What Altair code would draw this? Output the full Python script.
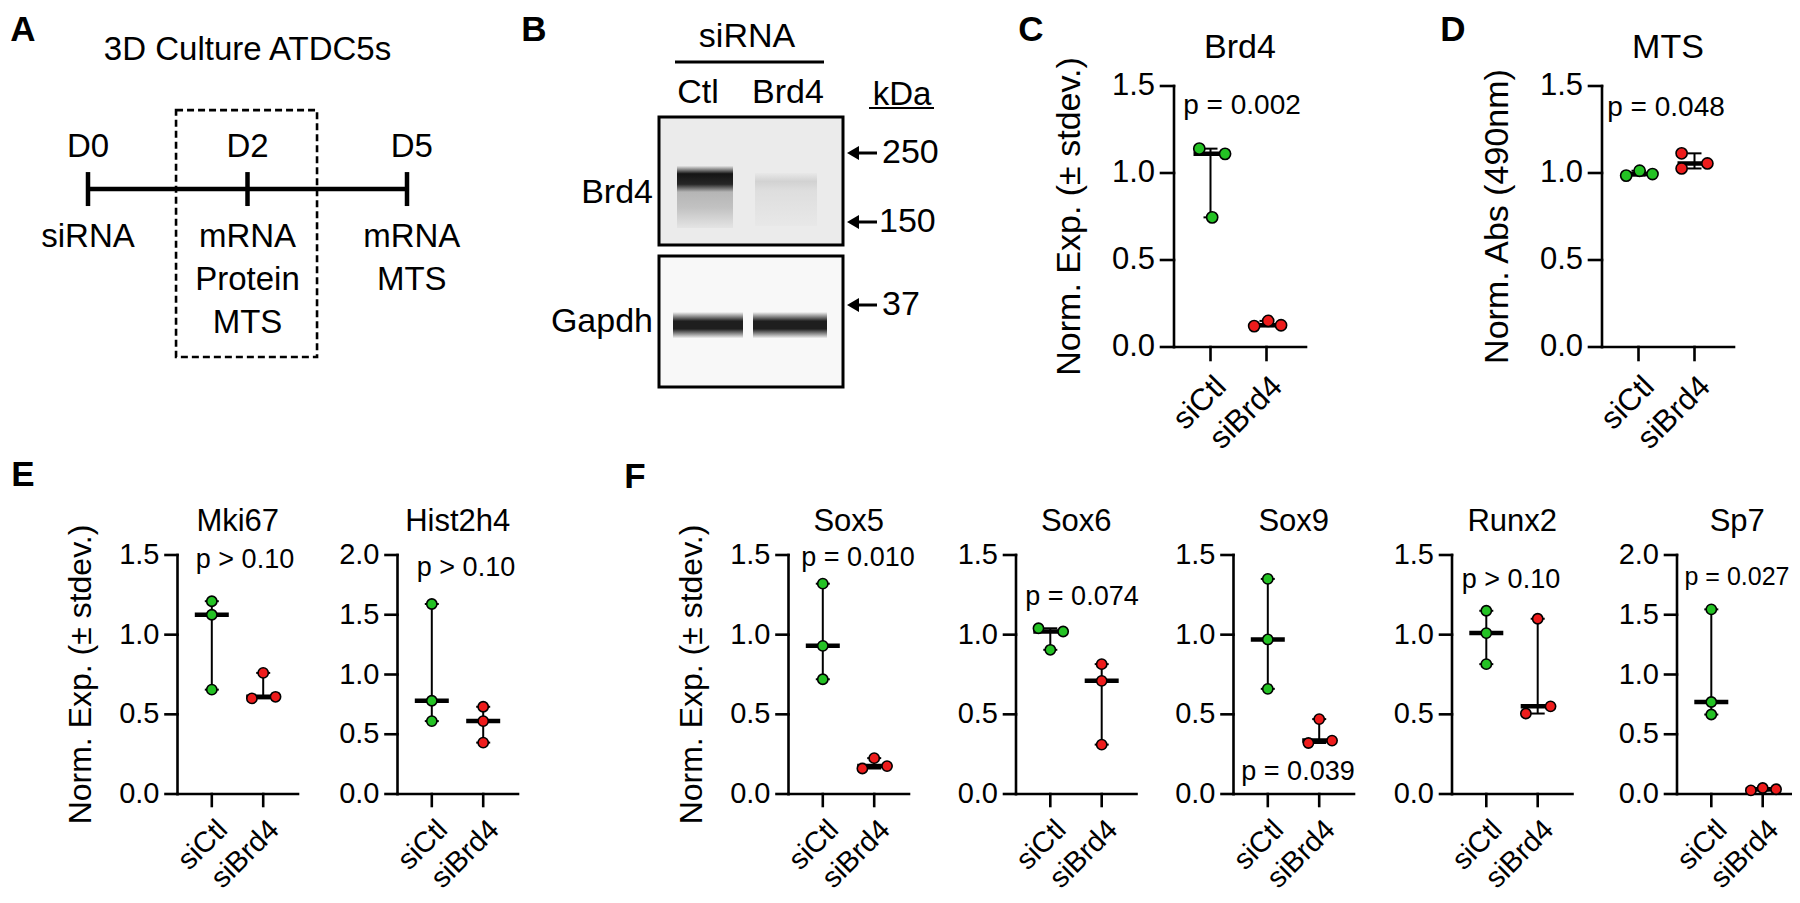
import numpy as np
import pandas as pd
import altair as alt

FONT = "Liberation Sans"
GREEN = "#24c224"
RED = "#ee1c1c"
groups = ["siCtl", "siBrd4"]

# ------------------------------------------------------------------ data
brd4_ctl = [1.14, 1.11, 0.745]
brd4_si = [0.12, 0.15, 0.125]
mts_ctl = [0.985, 1.013, 0.994]
mts_si = [1.113, 1.026, 1.055]
mki67_ctl = [1.21, 1.125, 0.655]
mki67_si = [0.60, 0.76, 0.61]
hist2h4_ctl = [1.59, 0.78, 0.61]
hist2h4_si = [0.73, 0.61, 0.43]
sox5_ctl = [1.32, 0.93, 0.72]
sox5_si = [0.16, 0.225, 0.175]
sox6_ctl = [1.04, 1.02, 0.905]
sox6_si = [0.815, 0.71, 0.31]
sox9_ctl = [1.35, 0.97, 0.66]
sox9_si = [0.32, 0.47, 0.335]
runx2_ctl = [1.15, 1.01, 0.815]
runx2_si = [1.10, 0.505, 0.55]
sp7_ctl = [1.545, 0.77, 0.665]
sp7_si = [0.03, 0.05, 0.04]

# horizontal spread of overlapping replicate points (category-step units)
brd4_off = ([-0.20, 0.26, 0.03], [-0.22, 0.03, 0.26])
mts_off = ([-0.22, 0.02, 0.25], [-0.23, -0.23, 0.23])
mki67_off = ([0, 0, 0], [-0.22, 0, 0.24])
hist2h4_off = ([0, 0, 0], [0, 0, 0])
sox5_off = ([0, 0, 0], [-0.23, 0, 0.25])
sox6_off = ([-0.23, 0.25, 0], [0, 0, 0])
sox9_off = ([0, 0, 0], [-0.21, 0, 0.25])
runx2_off = ([0, 0, 0], [0, -0.23, 0.25])
sp7_off = ([0, 0, 0], [-0.23, 0, 0.26])

p_labels = {"Brd4": "p = 0.002", "MTS": "p = 0.048", "Mki67": "p > 0.10",
            "Hist2h4": "p > 0.10", "Sox5": "p = 0.010", "Sox6": "p = 0.074",
            "Sox9": "p = 0.039", "Runx2": "p > 0.10", "Sp7": "p = 0.027"}
ytitle_expr = "Norm. Exp. (± stdev.)"
ytitle_abs = "Norm.  Abs (490nm)"

# panel A (timeline)
days = ["D0", "D2", "D5"]
day_events = [["siRNA"], ["mRNA", "Protein", "MTS"], ["mRNA", "MTS"]]
timeline_title = "3D Culture ATDC5s"

# panel B (blot annotation)
blot_header = "siRNA"
blot_lanes = ["Ctl", "Brd4"]
blot_rows = ["Brd4", "Gapdh"]
kda_markers = ["250", "150", "37"]

panel_letters = ["A", "B", "C", "D", "E", "F"]

# ------------------------------------------------------------------ layout
ROWS = {
    "top": dict(top=86, bot=347, W=132, step=56.0, padL=36.5, title_y=48, ytitle_off=104,
                tick=13, fs_tick=31, fs_title=34, fs_ytitle=34, fs_p=28, fs_xlab=31, xlab_dy=35,
                msize=125),
    "bottom": dict(top=555, bot=794, W=120.5, step=51.4, padL=34.3, title_y=522, ytitle_off=97,
                   tick=12, fs_tick=29, fs_title=31, fs_ytitle=32, fs_p=27, fs_xlab=29, xlab_dy=31,
                   msize=105),
}


def rules(df, xs, ys, width, dash=None, cap="square"):
    kw = dict(strokeWidth=width, color="black", strokeCap=cap)
    if dash:
        kw["strokeDash"] = dash
    return alt.Chart(df).mark_rule(**kw).encode(
        x=alt.X("x:Q", scale=xs, axis=None), x2="x2:Q",
        y=alt.Y("y:Q", scale=ys, axis=None), y2="y2:Q")


def texts(df, xs, ys, size, **kw):
    return alt.Chart(df).mark_text(font=FONT, fontSize=size, color="black", **kw).encode(
        x=alt.X("x:Q", scale=xs, axis=None), y=alt.Y("y:Q", scale=ys, axis=None), text="t:N")


def scatter_panel(name, ctl, si, offs, ymax, row, axis_x, p_px, ytitle=None, p_size=None):
    R = ROWS[row]
    step, padL, W, top, bot = R["step"], R["padL"], R["W"], R["top"], R["bot"]
    ppu = (bot - top) / ymax
    xmin, xmax = -padL / step, (W - padL) / step
    xs = alt.Scale(domain=[xmin, xmax], range=[axis_x - 8, axis_x + W - 8], nice=False, zero=False)
    ys = alt.Scale(domain=[0, ymax], range=[bot - 8, top - 8], nice=False, zero=False)

    def dx(px):
        return px / step

    def dy(px):
        return px / ppu

    ticks = [round(v, 2) for v in np.arange(0, ymax + 1e-9, 0.5)]
    tl = R["tick"]
    ax = [dict(x=xmin, x2=xmin, y=0, y2=ymax), dict(x=xmin, x2=xmax, y=0, y2=0)]
    ax += [dict(x=xmin - dx(tl), x2=xmin, y=t, y2=t) for t in ticks]
    ax += [dict(x=c, x2=c, y=0, y2=-dy(tl)) for c in (0, 1)]
    layers = [rules(pd.DataFrame(ax), xs, ys, 2.6)]

    layers.append(texts(pd.DataFrame([dict(x=xmin - dx(tl + 6), y=t, t=f"{t:.1f}") for t in ticks]),
                        xs, ys, R["fs_tick"], align="right", baseline="middle"))
    layers.append(texts(pd.DataFrame([dict(x=c + dx(11), y=-dy(R["xlab_dy"]), t=g) for c, g in enumerate(groups)]),
                        xs, ys, R["fs_xlab"], align="right", baseline="middle", angle=315))
    layers.append(texts(pd.DataFrame([dict(x=(xmin + xmax) / 2, y=ymax + dy(top - R["title_y"]), t=name)]),
                        xs, ys, R["fs_title"], align="center", baseline="middle"))
    if ytitle:
        layers.append(texts(pd.DataFrame([dict(x=xmin - dx(R["ytitle_off"]), y=ymax / 2, t=ytitle)]),
                            xs, ys, R["fs_ytitle"], align="center", baseline="middle", angle=270))
    px, py = p_px
    layers.append(texts(pd.DataFrame([dict(x=(px - axis_x - padL) / step, y=(bot - py) / ppu, t=p_labels[name])]),
                        xs, ys, p_size or R["fs_p"], align="center", baseline="middle"))

    err, caps, meds, pts = [], [], [], []
    for c, (vals, off, g) in enumerate(zip((ctl, si), offs, groups)):
        lo, hi, md = min(vals), max(vals), float(np.median(vals))
        err.append(dict(x=c, x2=c, y=lo, y2=hi))
        caps += [dict(x=c - dx(7), x2=c + dx(7), y=v, y2=v) for v in (lo, hi)]
        meds.append(dict(x=c - dx(17), x2=c + dx(17), y=md, y2=md))
        pts += [dict(x=c + o, y=v, g=g) for v, o in zip(vals, off)]
    layers.append(rules(pd.DataFrame(err), xs, ys, 2.0, cap="butt"))
    layers.append(rules(pd.DataFrame(caps), xs, ys, 2.0, cap="butt"))
    layers.append(rules(pd.DataFrame(meds), xs, ys, 4.5, cap="butt"))
    layers.append(alt.Chart(pd.DataFrame(pts)).mark_circle(
        size=R["msize"], stroke="black", strokeWidth=1.6, opacity=1).encode(
        x=alt.X("x:Q", scale=xs, axis=None), y=alt.Y("y:Q", scale=ys, axis=None),
        color=alt.Color("g:N", scale=alt.Scale(domain=groups, range=[GREEN, RED]), legend=None)))
    return alt.layer(*layers)


panels = [
    scatter_panel("Brd4", brd4_ctl, brd4_si, brd4_off, 1.5, "top", 1174, (1242, 106), ytitle_expr),
    scatter_panel("MTS", mts_ctl, mts_si, mts_off, 1.5, "top", 1602, (1666, 108), ytitle_abs),
    scatter_panel("Mki67", mki67_ctl, mki67_si, mki67_off, 1.5, "bottom", 177.5, (245, 560), ytitle_expr),
    scatter_panel("Hist2h4", hist2h4_ctl, hist2h4_si, hist2h4_off, 2.0, "bottom", 397.5, (466, 568)),
    scatter_panel("Sox5", sox5_ctl, sox5_si, sox5_off, 1.5, "bottom", 788.5, (858, 558), ytitle_expr),
    scatter_panel("Sox6", sox6_ctl, sox6_si, sox6_off, 1.5, "bottom", 1016, (1082, 597)),
    scatter_panel("Sox9", sox9_ctl, sox9_si, sox9_off, 1.5, "bottom", 1233.5, (1298, 772)),
    scatter_panel("Runx2", runx2_ctl, runx2_si, runx2_off, 1.5, "bottom", 1452, (1511, 580)),
    scatter_panel("Sp7", sp7_ctl, sp7_si, sp7_off, 2.0, "bottom", 1677, (1737, 577), p_size=25),
]

# ------------------------------------------------------------------ panel A
axs = alt.Scale(domain=[0, 2], range=[80, 399], nice=False, zero=False)
ays = alt.Scale(domain=[0, 1], range=[229, 272], nice=False, zero=False)
a_layers = [
    texts(pd.DataFrame([dict(x=1.0, y=-4.35, t=timeline_title)]), axs, ays, 33),
    texts(pd.DataFrame([dict(x=i + (0.03 if i == 2 else 0), y=-2.1, t=d) for i, d in enumerate(days)]), axs, ays, 33),
    rules(pd.DataFrame([dict(x=0, x2=len(days) - 1, y=-1.116, y2=-1.116)]), axs, ays, 4.5, cap="butt"),
    rules(pd.DataFrame([dict(x=i, x2=i, y=-1.51, y2=-0.72) for i in range(len(days))]), axs, ays, 4.5, cap="butt"),
    texts(pd.DataFrame([dict(x=i + (0.03 if i == 2 else 0), y=j, t=t)
                        for i, evs in enumerate(day_events) for j, t in enumerate(evs)]), axs, ays, 33),
    alt.Chart(pd.DataFrame([dict(x=0.552, x2=1.436, y=-2.95, y2=2.79)])).mark_rect(
        fillOpacity=0, stroke="black", strokeWidth=2.6, strokeDash=[7, 4]).encode(
        x=alt.X("x:Q", scale=axs, axis=None), x2="x2:Q", y=alt.Y("y:Q", scale=ays, axis=None), y2="y2:Q"),
]
panel_a = alt.layer(*a_layers)

# ------------------------------------------------------------------ panel B + letters (page scale)
PX = alt.Scale(domain=[8, 1792], range=[0, 1784], nice=False, zero=False)
PY = alt.Scale(domain=[8, 895], range=[0, 887], nice=False, zero=False)


def rect(x, x2, y, y2, **kw):
    return alt.Chart(pd.DataFrame([dict(x=x, x2=x2, y=y, y2=y2)])).mark_rect(**kw).encode(
        x=alt.X("x:Q", scale=PX, axis=None), x2="x2:Q", y=alt.Y("y:Q", scale=PY, axis=None), y2="y2:Q")


def vgrad(stops):
    return {"gradient": "linear", "x1": 0, "y1": 0, "x2": 0, "y2": 1,
            "stops": [{"offset": o, "color": c} for o, c in stops]}


b_layers = [
    texts(pd.DataFrame([dict(x=747, y=37, t=blot_header)]), PX, PY, 34),
    rules(pd.DataFrame([dict(x=675, x2=824, y=62, y2=62)]), PX, PY, 3, cap="butt"),
    texts(pd.DataFrame([dict(x=x, y=93, t=t) for x, t in zip([698, 788], blot_lanes)]), PX, PY, 34),
    rect(659, 843, 117, 245, fill="#ebebeb"),
    rect(659, 843, 256, 387, fill="#f8f8f8"),
    rect(677, 733, 188, 228, fill=vgrad([(0, "#b2b2b2"), (0.5, "#c2c2c2"), (1, "#e4e4e4")])),
    rect(677, 733, 166, 192, fill=vgrad([(0, "#e4e4e4"), (0.3, "#141414"), (0.7, "#262626"), (1, "#b4b4b4")])),
    rect(755, 817, 188, 226, fill=vgrad([(0, "#dddddd"), (1, "#e8e8e8")])),
    rect(755, 817, 173, 190, fill=vgrad([(0, "#e8e8e8"), (0.5, "#d2d2d2"), (1, "#dddddd")])),
    rect(673, 743, 312, 338, fill=vgrad([(0, "#f6f6f6"), (0.35, "#1e1e1e"), (0.65, "#1e1e1e"), (1, "#efefef")])),
    rect(753, 827, 312, 338, fill=vgrad([(0, "#f6f6f6"), (0.35, "#1e1e1e"), (0.65, "#1e1e1e"), (1, "#efefef")])),
    rect(659, 843, 117, 245, fillOpacity=0, stroke="black", strokeWidth=3),
    rect(659, 843, 256, 387, fillOpacity=0, stroke="black", strokeWidth=3),
    texts(pd.DataFrame([dict(x=653, y=y, t=t) for y, t in zip([193, 322], blot_rows)]), PX, PY, 34,
          align="right", baseline="middle"),
    rules(pd.DataFrame([dict(x=852, x2=877, y=y, y2=y) for y in (153, 222, 305)]), PX, PY, 3, cap="butt"),
    alt.Chart(pd.DataFrame([dict(x=853, y=y) for y in (153, 222, 305)])).mark_point(
        shape="triangle-left", filled=True, size=190, color="black", opacity=1).encode(
        x=alt.X("x:Q", scale=PX, axis=None), y=alt.Y("y:Q", scale=PY, axis=None)),
    texts(pd.DataFrame([dict(x=x, y=y, t=t) for x, y, t in zip([882, 879, 882], [153, 222, 305], kda_markers)]),
          PX, PY, 34, align="left", baseline="middle"),
    texts(pd.DataFrame([dict(x=902, y=95, t="kDa")]), PX, PY, 33),
    rules(pd.DataFrame([dict(x=869, x2=934, y=108, y2=108)]), PX, PY, 2, cap="butt"),
]
letters_df = pd.DataFrame([dict(x=x, y=y, t=t) for (x, y), t in zip(
    [(23, 30), (534, 30), (1031, 30), (1453, 30), (23, 475), (635, 477)], panel_letters)])
b_layers.append(alt.Chart(letters_df).mark_text(font=FONT, fontSize=35, fontWeight="bold",
                                                color="black").encode(
    x=alt.X("x:Q", scale=PX, axis=None), y=alt.Y("y:Q", scale=PY, axis=None), text="t:N"))
panel_b = alt.layer(*b_layers)

chart = alt.layer(panel_a, panel_b, *panels).resolve_scale(
    x="independent", y="independent").properties(
    width=1784, height=887, padding=0,
    autosize=alt.AutoSizeParams(type="none")).configure_view(strokeWidth=0)

chart.save("out.html", embed_options={"renderer": "svg", "actions": False})
